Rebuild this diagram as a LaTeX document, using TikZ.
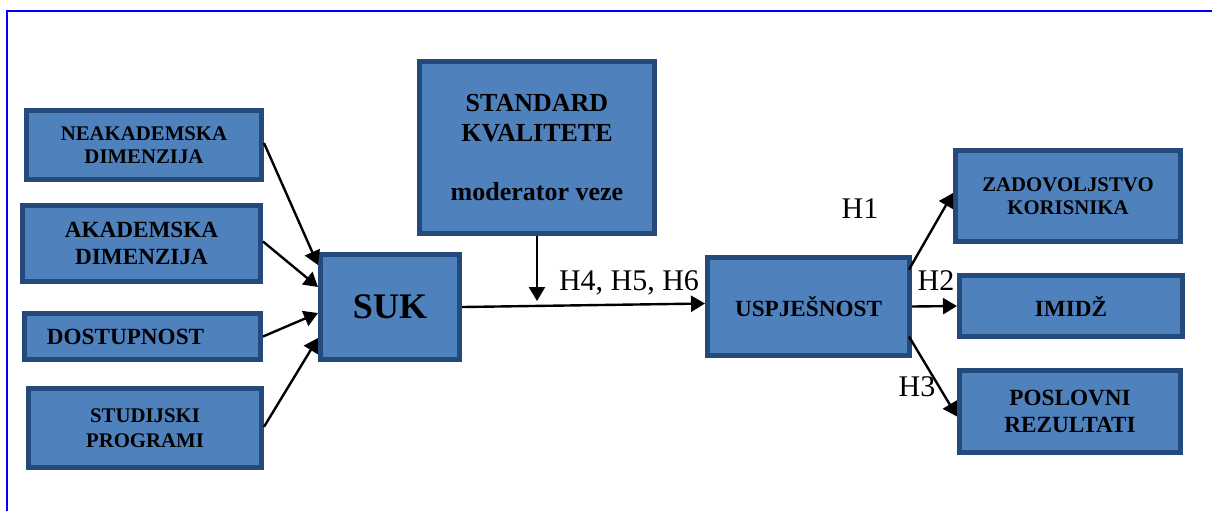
\documentclass[tikz,border=0pt]{standalone}
\usepackage{fontspec}
\setmainfont{Liberation Serif}[BoldFont={Liberation Serif Bold}]
\usetikzlibrary{arrows.meta}
\definecolor{boxfill}{RGB}{79,129,189}
\definecolor{boxborder}{RGB}{36,73,123}
\definecolor{framecol}{RGB}{0,0,255}
\tikzset{
  box/.style={draw=boxborder, fill=boxfill, line width=2.5pt, inner sep=0pt, align=center, text=black},
  fsmall/.style={font=\bfseries\fontsize{10.4}{11.7}\selectfont},
  fmid/.style={font=\bfseries\fontsize{11.6}{13.3}\selectfont},
  hl/.style={font=\fontsize{15}{17}\selectfont, inner sep=0pt, anchor=base},
  arr/.style={line width=1.2pt, -{Triangle[length=7pt,width=8pt]}},
}
\begin{document}
\begin{tikzpicture}[x=0.5pt,y=-0.5pt]
\useasboundingbox (0,0) rectangle (1212,511);
% frame
\draw[framecol, line width=1pt] (7,511) -- (7,11) -- (1212,11);
% left boxes
\node[box, fsmall, minimum width=117.5pt, minimum height=34.5pt] (neak) at (144,145) {NEAKADEMSKA\\DIMENZIJA};
\node[box, font=\bfseries\fontsize{11.6}{13.3}\selectfont, minimum width=119pt, minimum height=38pt] (akad) at (141.5,243.5) {AKADEMSKA\\[0.2pt]DIMENZIJA};
\node[box, fmid, minimum width=118pt, minimum height=23pt] (dost) at (142.5,336.5) {\hspace*{-17pt}\raisebox{-1.5pt}{DOSTUPNOST}};
\node[box, font=\bfseries\fontsize{10.4}{12.3}\selectfont, minimum width=116.5pt, minimum height=39.5pt] (stud) at (145,428) {STUDIJSKI\\PROGRAMI};
% centre
\node[box, font=\bfseries\fontsize{18}{20}\selectfont, minimum width=69.5pt, minimum height=52.5pt] (suk) at (390,307) {SUK};
\node[box, font=\bfseries\fontsize{13}{14.8}\selectfont, minimum width=117.5pt, minimum height=86pt] (std) at (537,147.5) {STANDARD\\KVALITETE\\[14.8pt]moderator veze};
\node[box, fmid, minimum width=101pt, minimum height=49pt] (uspj) at (808.5,306.5) {USPJEŠNOST};
% right boxes
\node[box, fsmall, minimum width=112.5pt, minimum height=45.5pt] (zad) at (1068,196) {ZADOVOLJSTVO\\KORISNIKA};
\node[box, fmid, minimum width=111.5pt, minimum height=30.5pt] (imid) at (1071,306) {IMIDŽ};
\node[box, font=\bfseries\fontsize{11.6}{13.7}\selectfont, minimum width=110.5pt, minimum height=41pt] (posl) at (1070,411.5) {POSLOVNI\\REZULTATI};
% labels
\node[hl] (h1) at (860,218) {H1};
\node[hl] (h2) at (936,290) {H2};
\node[hl] (h3) at (917,396.5) {H3};
\node[hl] (h456) at (629,290.5) {H4, H5, H6};
% connectors
\draw[arr] ([yshift=1pt]neak.east) -- ([yshift=21pt]suk.west);
\draw[arr] ([yshift=1pt]akad.east) -- ([yshift=10pt]suk.west);
\draw[arr] (dost.east) -- ([yshift=-3pt]suk.west);
\draw[arr] ([yshift=0.6pt]stud.east) -- ([yshift=-15.5pt]suk.west);
\draw[arr] (suk.east) -- ([yshift=1.5pt]uspj.west);
\coordinate (mod) at (537,301);
\draw[arr] (std.south) -- (mod);
\draw[arr] ([xshift=-1.5pt,yshift=18.5pt]uspj.east) -- ([yshift=1.5pt]zad.west);
\draw[arr] (uspj.east) -- (imid.west);
\draw[arr] ([xshift=-1.5pt,yshift=-15pt]uspj.east) -- ([yshift=-2.5pt]posl.west);
\end{tikzpicture}
\end{document}
